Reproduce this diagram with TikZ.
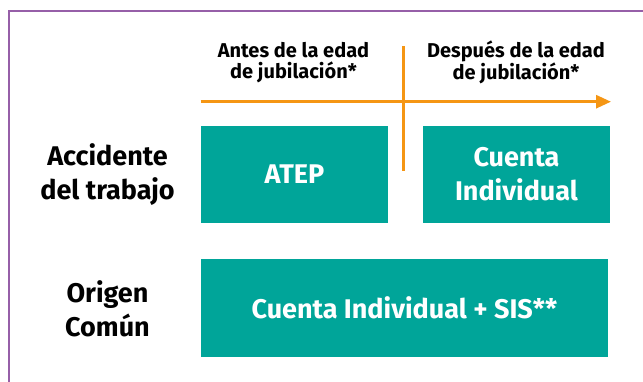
\documentclass[tikz,border=0pt]{standalone}
\usepackage{fontspec}
\setmainfont{Fira Sans}
\usetikzlibrary{arrows.meta}
\definecolor{boxteal}{RGB}{0,165,153}
\definecolor{lineorange}{RGB}{245,150,20}
\definecolor{framepurple}{RGB}{150,95,168}
\tikzset{
  tealbox/.style={fill=boxteal, text=white, inner sep=0pt, align=center, font=\bfseries\fontsize{27}{34}\selectfont},
  rowlabel/.style={text=black, inner sep=0pt, align=center, font=\bfseries\fontsize{27}{33.5}\selectfont},
  headlabel/.style={text=black, inner sep=0pt, align=center, font=\bfseries\fontsize{20}{21.5}\selectfont},
  orangeline/.style={draw=lineorange, line width=2.8pt},
}
\begin{document}
\begin{tikzpicture}[x=1pt,y=-1pt]
\useasboundingbox (0,0) rectangle (643,381);
\fill[white] (0,0) rectangle (643,381);
\begin{scope}
\clip (0,0) rectangle (643,381);
\draw[framepurple, line width=2.8pt] (9,11) rectangle (700,420);
\end{scope}
% header texts
\node[headlabel] (antes) at (293.5,62.5) {Antes de la edad\\de jubilación*};
\node[headlabel] (despues) at (516,62.5) {Después de la edad\\de jubilación*};
% axes
\coordinate (a0) at (200.5,101.7);
\coordinate (a1) at (611,101.7);
\coordinate (v0) at (403.5,46);
\coordinate (v1) at (403.5,171);
\draw[orangeline, -{Triangle[length=15pt,width=13pt]}] (a0) -- (a1);
\draw[orangeline] (v0) -- (v1);
% boxes
\node[tealbox, minimum width=187pt, minimum height=97pt] (atep) at (294.5,174.5) {ATEP};
\node[tealbox, minimum width=187pt, minimum height=97pt] (cuenta) at (516.5,174.5) {Cuenta\\Individual};
\node[tealbox, minimum width=407pt, minimum height=98pt] (sis) at (404.5,308) {Cuenta Individual + SIS**};
% row labels
\node[rowlabel] (acc) at (107.5,174.5) {Accidente\\del trabajo};
\node[rowlabel] (orig) at (107.5,309) {Origen\\Común};
\end{tikzpicture}
\end{document}
